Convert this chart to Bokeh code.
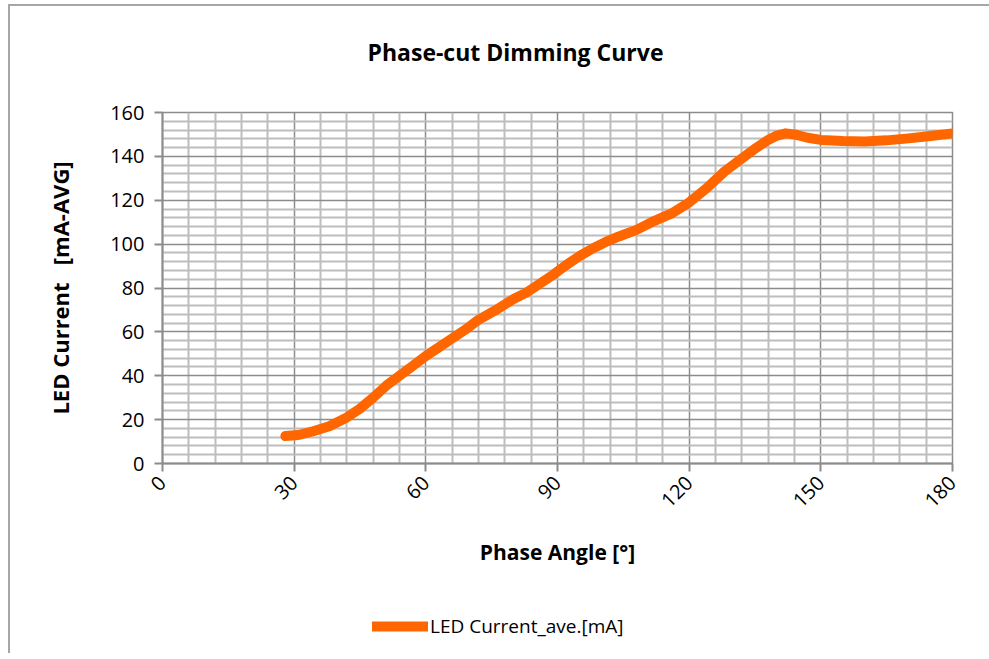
from bokeh.plotting import figure
from bokeh.layouts import column
from bokeh.models import FixedTicker, Legend, LegendItem, Range1d, Title
from bokeh.embed import file_html
from bokeh.resources import INLINE
from math import pi

# data
phase_angle = [28, 31, 34, 38, 42, 45, 48, 51, 54, 57, 60, 63, 66, 69, 72, 76, 80, 83, 86, 89,
               92, 95, 98, 101, 104, 108, 112, 116, 120, 124, 128, 132, 135, 138, 140, 142, 144,
               147, 150, 155, 160, 165, 170, 175, 180]
led_current = [12.5, 13, 14.5, 17, 21, 25, 30, 35.5, 40, 44.5, 49, 53, 57, 61, 65.5, 70, 75, 78, 82, 86,
               90.5, 94.5, 98, 101, 103.5, 106.5, 110.5, 114, 119, 125.5, 133, 139, 143.5, 147.5, 149.5, 150.5, 150,
               148.5, 147.5, 147, 146.8, 147.3, 148.2, 149.3, 150.5]

x_ticks = [0, 30, 60, 90, 120, 150, 180]
x_minor = [v for v in range(0, 181, 6) if v % 30 != 0]
y_ticks = [0, 20, 40, 60, 80, 100, 120, 140, 160]
y_minor = [v for v in range(0, 161, 4) if v % 20 != 0]
series_name = "LED Current_ave.[mA]"

FONT = "Open Sans"
ORANGE = "#FF6600"

p = figure(
    width=979, height=577,
    frame_width=790, frame_height=351,
    x_range=Range1d(0, 180), y_range=Range1d(0, 160),
    output_backend="svg", toolbar_location=None,
    min_border_left=152, min_border_right=37, min_border_top=106, min_border_bottom=120,
)
p.outline_line_color = "#8c8c8c"
p.outline_line_width = 1.5

# spacing between the plot area and the title
p.add_layout(Title(text=" ", text_font_size="1px", standoff=42), "above")
title = Title(text="Phase-cut Dimming Curve", align="left", offset=205, standoff=0,
              text_font=FONT, text_font_size="23px", text_font_style="bold",
              text_color="#000000")
p.add_layout(title, "above")

for ax in (p.xaxis[0], p.yaxis[0]):
    ax.axis_line_color = "#8c8c8c"
    ax.axis_line_width = 2
    ax.major_tick_line_color = "#8c8c8c"
    ax.major_tick_line_width = 2
    ax.major_tick_out = 8
    ax.major_tick_in = 0
    ax.minor_tick_out = 0
    ax.minor_tick_in = 0
    ax.major_label_text_font = FONT
    ax.major_label_text_font_size = "20px"
    ax.major_label_text_color = "#000000"
    ax.axis_label_text_font = FONT
    ax.axis_label_text_font_style = "bold"
    ax.axis_label_text_color = "#000000"

p.xaxis.axis_label_text_font_size = "21px"
p.yaxis.axis_label_text_font_size = "22px"
p.xaxis.ticker = FixedTicker(ticks=x_ticks, minor_ticks=x_minor)
p.yaxis.ticker = FixedTicker(ticks=y_ticks, minor_ticks=y_minor)
p.xaxis.major_label_orientation = pi / 4
p.xaxis.axis_label = "Phase Angle [°]"
p.yaxis.axis_label = "LED Current \u00a0 [mA-AVG]"
p.xaxis.major_label_standoff = 8
p.yaxis.major_label_standoff = 10
p.xaxis.axis_label_standoff = 21
p.yaxis.axis_label_standoff = 32

for g in (p.xgrid[0], p.ygrid[0]):
    g.grid_line_color = "#8c8c8c"
    g.grid_line_width = 1.5
    g.minor_grid_line_color = "#bdbdbd"
    g.minor_grid_line_width = 2

p.line(phase_angle, led_current, line_color=ORANGE, line_width=10,
       line_cap="round", line_join="round")

# legend strip under the chart (same series, its line hidden; only the key is shown)
lf = figure(width=979, height=70, output_backend="svg", toolbar_location=None,
            x_range=Range1d(0, 180), y_range=Range1d(0, 160),
            x_axis_location=None, y_axis_location=None,
            min_border_left=0, min_border_right=0, min_border_top=0, min_border_bottom=0)
lf.outline_line_color = None
lf.xgrid.visible = False
lf.ygrid.visible = False
key_line = lf.line(phase_angle, led_current, line_color=ORANGE, line_width=10,
                   line_cap="round", line_join="round", visible=False)
legend = Legend(items=[LegendItem(label=series_name, renderers=[key_line])],
                location=(210, 14), orientation="horizontal", margin=0,
                label_text_font=FONT, label_text_font_size="19px",
                label_text_color="#000000", glyph_width=56, glyph_height=20,
                label_standoff=2, padding=4, border_line_color=None,
                background_fill_alpha=0, inactive_fill_alpha=0)
lf.add_layout(legend, "center")

layout = column(p, lf, spacing=0)
layout.margin = (4, 0, 0, 8)
layout.styles = {"border-left": "2px solid #a6a6a6", "border-top": "2px solid #a6a6a6"}

open("out.html", "w").write(file_html(layout, INLINE))
